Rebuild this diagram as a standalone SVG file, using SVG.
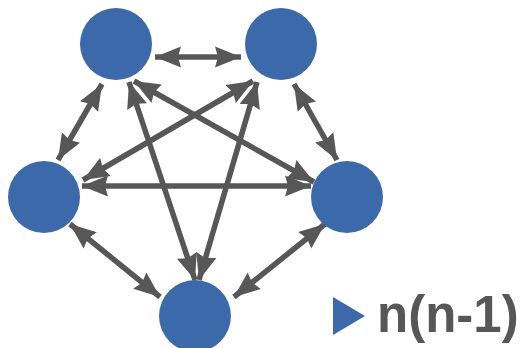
<svg xmlns="http://www.w3.org/2000/svg" width="530" height="348" viewBox="0 0 530 348">
<defs>
<style>
.node{fill:#3b69a9}
.edge{stroke:#575757;stroke-width:5.5;fill:none;marker-start:url(#ah);marker-end:url(#ah)}
.lbl{font-family:"Liberation Sans",Arial,sans-serif;font-weight:bold;font-size:51px;fill:#575757}
</style>
<marker id="ah" markerUnits="userSpaceOnUse" markerWidth="27" markerHeight="22" refX="26" refY="10.5" orient="auto-start-reverse" viewBox="0 0 27 21">
<path d="M0,0 L26,10.5 L0,21 L3,10.5 z" fill="#575757"/>
</marker>
</defs>
<rect width="530" height="348" fill="#ffffff"/>
<g id="connectors">
<line class="edge" x1="155" y1="57" x2="241" y2="57"/>
<line class="edge" x1="102" y1="84" x2="58" y2="160"/>
<line class="edge" x1="294" y1="84" x2="337" y2="160"/>
<line class="edge" x1="82" y1="186" x2="311" y2="186"/>
<line class="edge" x1="70" y1="224" x2="160" y2="297"/>
<line class="edge" x1="325" y1="224" x2="234" y2="297"/>
<line class="edge" x1="129" y1="82" x2="195" y2="280"/>
<line class="edge" x1="257" y1="82" x2="199" y2="280"/>
<line class="edge" x1="134" y1="81" x2="314" y2="182"/>
<line class="edge" x1="253" y1="81" x2="83" y2="180"/>
</g>
<g id="n1"><circle class="node" cx="116" cy="44" r="36"/></g>
<g id="n2"><circle class="node" cx="281" cy="44" r="36"/></g>
<g id="n3"><circle class="node" cx="44" cy="197" r="36"/></g>
<g id="n4"><circle class="node" cx="347" cy="197" r="36"/></g>
<g id="n5"><circle class="node" cx="195" cy="316" r="36"/></g>
<g id="legend">
<polygon points="333,297 365,316 333,335" fill="#3b69a9"/>
<text class="lbl" x="377" y="332">n(n-1)</text>
</g>
</svg>
